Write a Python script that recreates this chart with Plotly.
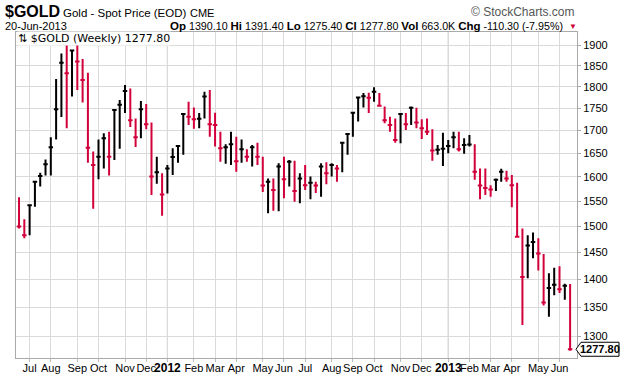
import numpy as np
import pandas as pd
import plotly.graph_objects as go

# ---------------- data (weekly bars, $GOLD) ----------------
as_of = "2013-06-20"
week_ending = list(pd.date_range("2011-06-24", periods=105, freq="W-FRI"))
week_ending[-1] = pd.Timestamp(as_of)

highs = [1558, 1514, 1544, 1592, 1609, 1637, 1685, 1818, 1880, 1911,
         1888, 1921, 1866, 1833, 1654, 1680, 1694, 1697, 1748, 1769,
         1804, 1796, 1727, 1767, 1760, 1718, 1643, 1608, 1625, 1661,
         1668, 1739, 1765, 1752, 1739, 1788, 1792, 1740, 1697, 1670,
         1697, 1686, 1680, 1659, 1668, 1673, 1643, 1597, 1597, 1629,
         1643, 1636, 1634, 1608, 1625, 1601, 1590, 1629, 1631, 1629,
         1625, 1675, 1694, 1742, 1777, 1785, 1786, 1799, 1785, 1754,
         1731, 1727, 1739, 1739, 1754, 1751, 1725, 1727, 1703, 1668,
         1695, 1679, 1697, 1697, 1683, 1690, 1670, 1618, 1618, 1583,
         1597, 1617, 1613, 1604, 1588, 1496, 1483, 1488, 1477, 1447,
         1411, 1421, 1424, 1392, 1391.40]
lows = [1496, 1477, 1483, 1539, 1580, 1603, 1603, 1680, 1730, 1705,
        1777, 1792, 1763, 1630, 1535, 1595, 1618, 1603, 1636, 1660,
        1739, 1708, 1664, 1683, 1703, 1563, 1586, 1521, 1566, 1604,
        1630, 1647, 1712, 1704, 1705, 1727, 1686, 1665, 1632, 1628,
        1625, 1611, 1630, 1632, 1622, 1625, 1569, 1526, 1531, 1530,
        1556, 1580, 1549, 1546, 1573, 1554, 1567, 1559, 1585, 1601,
        1590, 1610, 1647, 1686, 1720, 1752, 1739, 1765, 1754, 1716,
        1697, 1673, 1672, 1701, 1712, 1705, 1681, 1690, 1634, 1647,
        1623, 1650, 1661, 1654, 1649, 1665, 1594, 1554, 1563, 1559,
        1571, 1590, 1590, 1538, 1480, 1319, 1402, 1439, 1416, 1353,
        1333, 1371, 1375, 1363, 1275.40]
closes = [1500, 1483, 1542, 1590, 1602, 1627, 1663, 1748, 1857, 1832,
          1887, 1860, 1816, 1662, 1625, 1643, 1683, 1643, 1746, 1758,
          1790, 1723, 1685, 1748, 1714, 1601, 1610, 1564, 1618, 1642,
          1666, 1737, 1731, 1725, 1726, 1777, 1714, 1712, 1661, 1663,
          1670, 1633, 1659, 1643, 1663, 1643, 1582, 1590, 1573, 1622,
          1595, 1632, 1571, 1597, 1583, 1588, 1582, 1622, 1608, 1625,
          1618, 1673, 1692, 1740, 1775, 1778, 1774, 1788, 1756, 1723,
          1712, 1679, 1737, 1714, 1751, 1718, 1705, 1697, 1656, 1658,
          1660, 1666, 1685, 1659, 1668, 1669, 1611, 1582, 1577, 1574,
          1594, 1611, 1597, 1583, 1480, 1404, 1463, 1470, 1448, 1358,
          1384, 1390, 1382, 1388.10, 1277.80]
prior_close = 1540.0
last_open = 1390.10
last_volume = "663.0K"
price_ticks = list(range(1300, 1901, 50))

# ---------------- derived ----------------
n = len(closes)
idx = np.arange(n)
c = np.array(closes, dtype=float)
h = np.array(highs, dtype=float)
l = np.array(lows, dtype=float)
prev = np.concatenate([[prior_close], c[:-1]])
up = c >= prev
down = ~up

RED = "#D2003A"
fig = go.Figure()
for mask, col in ((up, "#000000"), (down, RED)):
    fig.add_trace(go.Ohlc(
        x=idx[mask], open=c[mask], high=h[mask], low=l[mask], close=c[mask],
        increasing=dict(line=dict(color=col, width=2)),
        decreasing=dict(line=dict(color=col, width=2)),
        tickwidth=0.42, hoverinfo="skip", showlegend=False))

# month grid: first bar whose week (Monday) starts in a new month
mondays = [d - pd.Timedelta(days=d.weekday()) for d in week_ending]
tick_idx, tick_txt, year_idx = [], [], []
for i in range(1, n):
    if mondays[i].month != mondays[i - 1].month:
        tick_idx.append(i)
        if mondays[i].month == 1:
            tick_txt.append("<span style='font-size:12px'><b>%d</b></span>" % mondays[i].year)
            year_idx.append(i)
        else:
            tick_txt.append(mondays[i].strftime("%b"))

for yi in year_idx:
    fig.add_shape(type="line", xref="x", yref="paper", x0=yi, x1=yi, y0=0, y1=1,
                  line=dict(color="#b4b4b4", width=1), layer="below")

W, H = 620, 376
ML, MR, MT, MB = 16, 43, 32, 18
PW, PH = W - ML - MR, H - MT - MB
lo, hi = np.log10(1263.3), np.log10(1933.2)

def px_x(px):
    return (px - ML) / PW

def px_y(py):
    return (H - MB - py) / PH

FONT = "Liberation Sans, Arial, sans-serif"
fig.update_layout(
    width=W, height=H, margin=dict(l=ML, r=MR, t=MT, b=MB),
    paper_bgcolor="white", plot_bgcolor="white",
    font=dict(family=FONT, size=11, color="#000"),
    xaxis=dict(range=[-0.57, n + 0.3], tickvals=tick_idx, ticktext=tick_txt,
               tickangle=0, ticklabelstandoff=-3,
               showgrid=True, gridcolor="#dadada", gridwidth=1,
               ticks="outside", ticklen=3, tickcolor="#bbbbbb",
               showline=True, linecolor="#aaaaaa", mirror=True,
               zeroline=False, rangeslider=dict(visible=False),
               tickfont=dict(size=11, family=FONT), automargin=False, fixedrange=True),
    yaxis=dict(type="log", side="right", range=[lo, hi],
               tickvals=price_ticks, ticktext=[str(v) for v in price_ticks],
               showgrid=True, gridcolor="#dadada", gridwidth=1,
               ticks="outside", ticklen=3, tickcolor="#aaaaaa",
               showline=True, linecolor="#aaaaaa", mirror=True,
               zeroline=False, tickfont=dict(size=11, family=FONT),
               automargin=False, fixedrange=True),
)

chg = c[-1] - c[-2]
pct = chg / c[-2] * 100
ann = []
ann.append(dict(text="<b>$GOLD</b>", x=px_x(3), y=px_y(12), xanchor="left", yanchor="middle",
                font=dict(size=16, family=FONT)))
ann.append(dict(text="Gold - Spot Price (EOD)", x=px_x(61), y=px_y(13), xanchor="left",
                yanchor="middle", font=dict(size=11.5, family=FONT)))
ann.append(dict(text="CME", x=px_x(188), y=px_y(13), xanchor="left", yanchor="middle",
                font=dict(size=11, family=FONT)))
ann.append(dict(text="© StockCharts.com", x=px_x(577), y=px_y(12), xanchor="right",
                yanchor="middle", font=dict(size=12, family=FONT, color="#555")))
ann.append(dict(text=pd.Timestamp(as_of).strftime("%d-%b-%Y"), x=px_x(3), y=px_y(25.5),
                xanchor="left", yanchor="middle", font=dict(size=11, family=FONT)))
B = "<span style='font-size:11.5px'><b>%s</b></span>"
hdr = (B % "Op" + " %.2f " % last_open + B % "Hi" + " %.2f " % h[-1] + B % "Lo" +
       " %.2f " % l[-1] + B % "Cl" + " %.2f " % c[-1] + B % "Vol" + " %s " % last_volume +
       B % "Chg" + " %.2f (%.2f%%)" % (chg, pct))
ann.append(dict(text=hdr, x=px_x(565), y=px_y(25.5), xanchor="right", yanchor="middle",
                font=dict(size=10.7, family=FONT)))
ann.append(dict(text="▼", x=px_x(567), y=px_y(26.5), xanchor="left", yanchor="middle",
                font=dict(size=8, family=FONT, color=RED)))
ann.append(dict(text="⇅ $GOLD (Weekly) %.2f" % c[-1], x=px_x(17), y=px_y(38),
                xanchor="left", yanchor="middle", bgcolor="white", borderpad=0,
                font=dict(size=11, family="DejaVu Sans, sans-serif")))

# last price tag
yp = (np.log10(c[-1]) - lo) / (hi - lo)
dy = 7.0 / PH
x_tip, x_b, x_r = px_x(576), px_x(581), px_x(619)
fig.add_shape(type="path", xref="paper", yref="paper",
              path="M %f %f L %f %f L %f %f L %f %f L %f %f Z" % (
                  x_tip, yp, x_b, yp + dy, x_r, yp + dy, x_r, yp - dy, x_b, yp - dy),
              line=dict(color="#000", width=1), fillcolor="white", layer="above")
ann.append(dict(text="<b>%.2f</b>" % c[-1], x=(x_b + x_r) / 2, y=yp, xanchor="center",
                yanchor="middle", font=dict(size=11, family=FONT)))

for a in ann:
    a.update(xref="paper", yref="paper", showarrow=False)
fig.update_layout(annotations=ann)

fig.write_html("out.html", config={"displayModeBar": False},
               post_script="document.body.style.margin='0';document.body.style.overflow='hidden';")
